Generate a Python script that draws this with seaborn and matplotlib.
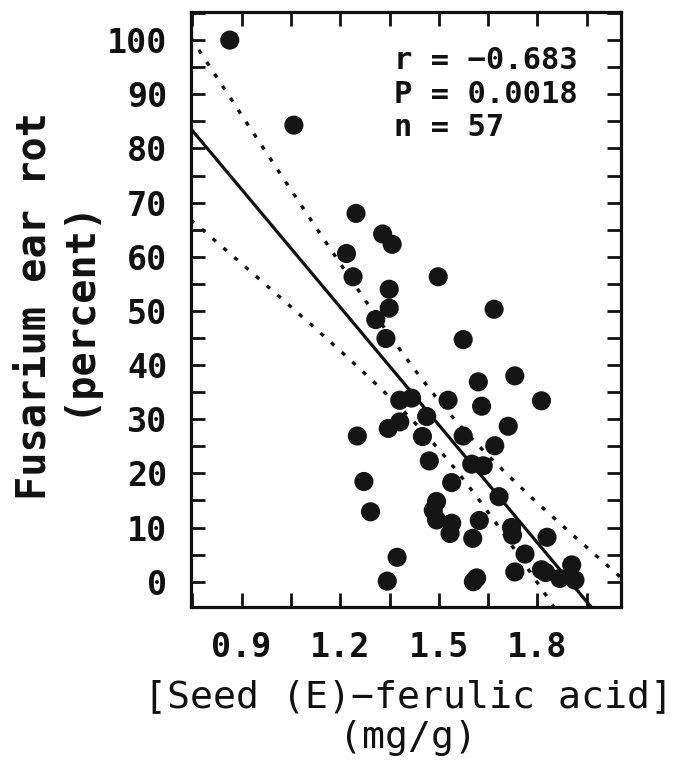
import numpy as np
import pandas as pd
import matplotlib
matplotlib.use("Agg")
import matplotlib.pyplot as plt
from matplotlib.ticker import MultipleLocator
import seaborn as sns

# seed (E)-ferulic acid (mg/g) vs Fusarium ear rot (percent)
ferulic = [
    0.864, 1.059, 1.248, 1.329, 1.358, 1.219, 1.239, 1.349, 1.498, 1.349,
    1.308, 1.339, 1.668, 1.574, 1.620, 1.731, 1.812, 1.630, 1.528, 1.381,
    1.417, 1.463, 1.346, 1.381, 1.252, 1.450, 1.574, 1.711, 1.670, 1.471,
    1.600, 1.635, 1.272, 1.539, 1.683, 1.292, 1.493, 1.483, 1.493, 1.539,
    1.534, 1.623, 1.603, 1.721, 1.724, 1.829, 1.373, 1.762, 1.343, 1.615,
    1.605, 1.731, 1.812, 1.825, 1.904, 1.868, 1.914,
]
ear_rot = [
    100.0, 84.3, 68.0, 64.2, 62.3, 60.6, 56.3, 54.0, 56.3, 50.5,
    48.4, 44.9, 50.3, 44.7, 36.9, 38.0, 33.4, 32.4, 33.5, 33.5,
    33.9, 30.5, 28.3, 29.5, 26.9, 26.8, 26.9, 28.7, 25.1, 22.3,
    21.7, 21.4, 18.5, 18.3, 15.7, 12.9, 14.8, 13.2, 11.4, 10.8,
    8.9, 11.3, 8.0, 10.0, 8.6, 8.2, 4.5, 5.1, 0.1, 0.7,
    0.0, 1.8, 2.2, 1.7, 3.1, 0.6, 0.3,
]
stats_lines = ["r = \u22120.683", "P = 0.0018", "n = 57"]
x_ticks = [0.9, 1.2, 1.5, 1.8]
y_ticks = list(range(0, 101, 10))

df = pd.DataFrame({"ferulic": ferulic, "ear_rot": ear_rot})

sns.set_style("ticks")
plt.rcParams["font.family"] = ["DejaVu Sans Mono", "DejaVu Sans"]

fig = plt.figure(figsize=(6.84, 7.61), dpi=100)
ax = fig.add_axes([0.2792, 0.2024, 0.6287, 0.7819])

xlim = (0.746, 2.054)
ylim = (-4.67, 105.2)

# least squares fit with 95% confidence band for the mean
x = df["ferulic"].to_numpy()
y = df["ear_rot"].to_numpy()
n = len(x)
slope, intercept = np.polyfit(x, y, 1)
resid = y - (intercept + slope * x)
s = np.sqrt(np.sum(resid ** 2) / (n - 2))
sxx = np.sum((x - x.mean()) ** 2)
t_crit = 2.004
xs = np.linspace(xlim[0], xlim[1], 200)
fit = intercept + slope * xs
half = t_crit * s * np.sqrt(1 / n + (xs - x.mean()) ** 2 / sxx)

ax.plot(xs, fit, color="#111111", lw=2.3)
ax.plot(xs, fit + half, color="#111111", lw=2.4, ls=(0, (1.3, 3.0)))
ax.plot(xs, fit - half, color="#111111", lw=2.4, ls=(0, (1.3, 3.0)))

sns.scatterplot(data=df, x="ferulic", y="ear_rot", ax=ax, s=190,
                color="#151515", edgecolor="none", zorder=3, legend=False)

ax.set_xlim(*xlim)
ax.set_ylim(*ylim)
ax.set_xticks(x_ticks)
ax.set_xticklabels([f"{v:.1f}" for v in x_ticks])
ax.xaxis.set_minor_locator(MultipleLocator(0.15))
ax.set_yticks(y_ticks)
ax.yaxis.set_minor_locator(MultipleLocator(5))

for side in ["left", "right", "top", "bottom"]:
    ax.spines[side].set_visible(True)
    ax.spines[side].set_linewidth(2.3)
    ax.spines[side].set_color("#111111")

ax.tick_params(which="both", direction="in", length=10, width=2,
               color="#111111", top=True, right=True, pad=17)
ax.tick_params(which="major", labelsize=24)
for lab in ax.get_xticklabels() + ax.get_yticklabels():
    lab.set_fontweight("bold")
    lab.set_color("#111111")

ax.set_xlabel("[Seed (E)\u2212ferulic acid]\n(mg/g)", fontsize=27.5,
              color="#111111", linespacing=1.2, va="center")
ax.xaxis.set_label_coords(0.505, -0.186)

ax.set_ylabel("Fusarium ear rot\n(percent)", fontsize=29, fontweight="bold",
              color="#111111", linespacing=1.15, va="center")
ax.yaxis.set_label_coords(-0.315, 0.505)

for i, line in enumerate(stats_lines):
    ax.text(0.472, 0.918 - i * 0.0563, line, transform=ax.transAxes,
            fontsize=22, fontweight="bold", color="#111111",
            ha="left", va="center")

fig.savefig("out.png", dpi=100)
